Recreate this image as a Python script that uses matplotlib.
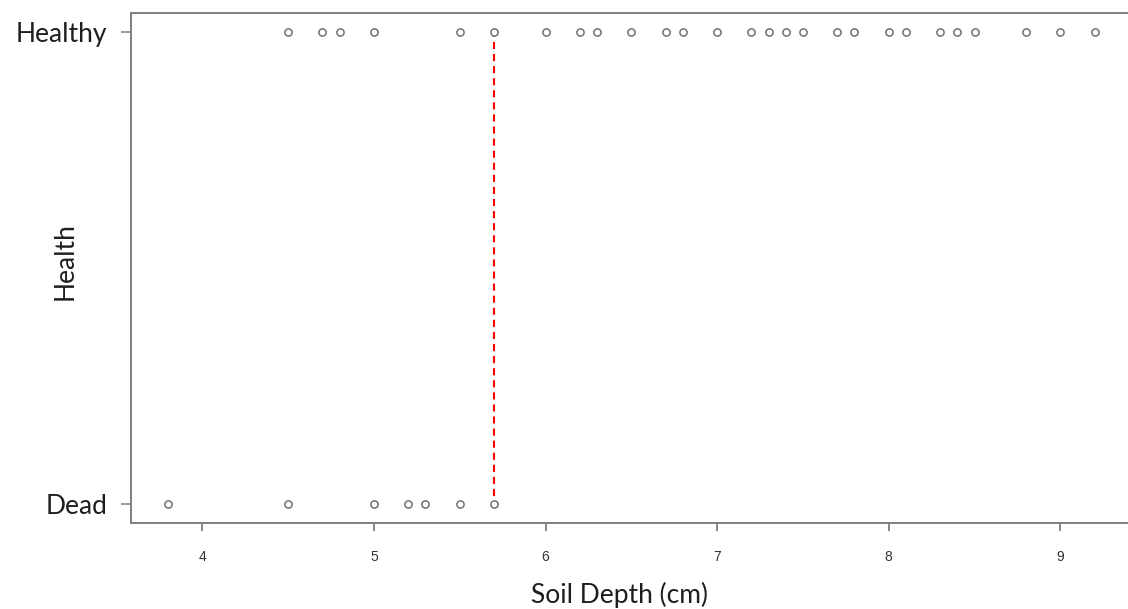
import matplotlib
matplotlib.use("Agg")
import matplotlib.pyplot as plt
import numpy as np

# soil depth (cm) for each plant, split by outcome
healthy_depth = [4.5, 4.7, 4.8, 5.0, 5.5, 5.7, 6.0, 6.2, 6.3, 6.5, 6.7, 6.8,
                 7.0, 7.2, 7.3, 7.4, 7.5, 7.7, 7.8, 8.0, 8.1, 8.3, 8.4, 8.5,
                 8.8, 9.0, 9.2]
dead_depth = [3.8, 4.5, 5.0, 5.2, 5.3, 5.5, 5.7]
health_labels = ["Dead", "Healthy"]
cutoff = 5.7
x_ticks = [4, 5, 6, 7, 8, 9]

fig = plt.figure(figsize=(11.28, 6.09), dpi=100)
ax = fig.add_axes([0.1161, 0.1409, 0.8872, 0.8371])

# threshold line between the two groups
ax.plot([cutoff, cutoff], [0, 1], color="#ff0000", lw=1.5,
        linestyle=(2, (3.4, 2.4)), zorder=1)

pt = dict(marker="o", linestyle="none", ms=5.2, mfc="white", mec="#707070",
          mew=1.1, zorder=3)
ax.plot(healthy_depth, np.ones(len(healthy_depth)), **pt)
ax.plot(dead_depth, np.zeros(len(dead_depth)), **pt)

# R-style 4% padding around the data range
lo, hi = min(dead_depth + healthy_depth), max(dead_depth + healthy_depth)
pad = 0.04 * (hi - lo)
ax.set_xlim(lo - pad, hi + pad)
ax.set_ylim(-0.04, 1.04)

for s in ax.spines.values():
    s.set_color("#7f7f7f")
    s.set_linewidth(1.4)

ax.set_xticks(x_ticks)
ax.set_xticklabels([str(t) for t in x_ticks], fontsize=10,
                   family="Liberation Sans", color="#333333")
ax.tick_params(axis="x", length=6, width=1.3, color="#7f7f7f", pad=13.5)

ax.set_yticks([0, 1])
ax.set_yticklabels(health_labels, fontsize=19, family="Lato", color="#1e1e1e")
ax.tick_params(axis="y", length=7, width=1.1, color="#7f7f7f", pad=10)

ax.set_xlabel("Soil Depth (cm)", fontsize=19, family="Lato", color="#1e1e1e")
ax.xaxis.set_label_coords(0.488, -0.115)
ax.set_ylabel("Health", fontsize=19, family="Lato", color="#1e1e1e")
ax.yaxis.set_label_coords(-0.053, 0.515)

fig.savefig("out.png", dpi=100)
